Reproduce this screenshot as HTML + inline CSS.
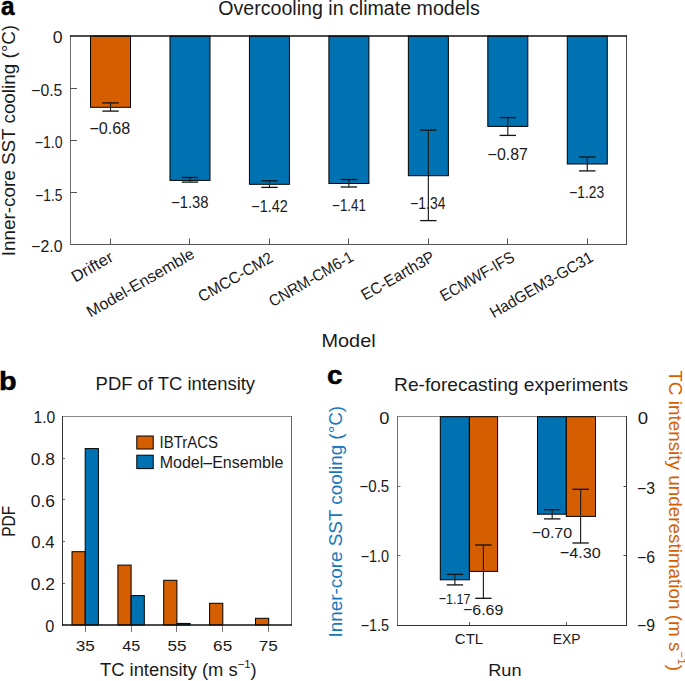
<!DOCTYPE html>
<html><head><meta charset="utf-8"><style>
html,body{margin:0;padding:0;background:#fff;}
svg{display:block;font-family:"Liberation Sans", sans-serif;}
</style></head><body>
<svg width="685" height="681" viewBox="0 0 685 681">
<rect width="685" height="681" fill="#fff"/>
<line x1="70.50" y1="35.50" x2="70.50" y2="245.00" stroke="#6e6e6e" stroke-width="1"/>
<line x1="626.50" y1="35.50" x2="626.50" y2="245.00" stroke="#4a4a4a" stroke-width="1"/>
<line x1="70.00" y1="244.50" x2="627.00" y2="244.50" stroke="#555" stroke-width="1"/>
<line x1="70.00" y1="88.50" x2="77.00" y2="88.50" stroke="#555" stroke-width="1"/>
<line x1="70.00" y1="140.50" x2="77.00" y2="140.50" stroke="#555" stroke-width="1"/>
<line x1="70.00" y1="192.50" x2="77.00" y2="192.50" stroke="#555" stroke-width="1"/>
<line x1="70.00" y1="244.50" x2="77.00" y2="244.50" stroke="#555" stroke-width="1"/>
<rect x="90.53" y="36.00" width="40.00" height="71.30" fill="#D55E00" stroke="#000" stroke-width="1"/>
<line x1="110.53" y1="102.90" x2="110.53" y2="111.10" stroke="#1e1e1e" stroke-width="1.15"/>
<line x1="102.33" y1="102.90" x2="118.73" y2="102.90" stroke="#111" stroke-width="1.3"/>
<line x1="102.33" y1="111.10" x2="118.73" y2="111.10" stroke="#111" stroke-width="1.3"/>
<line x1="110.50" y1="244.00" x2="110.50" y2="238.50" stroke="#555" stroke-width="1"/>
<rect x="169.99" y="36.00" width="40.00" height="144.40" fill="#0072B2" stroke="#000" stroke-width="1"/>
<line x1="189.99" y1="177.50" x2="189.99" y2="182.10" stroke="#1e1e1e" stroke-width="1.15"/>
<line x1="181.79" y1="177.50" x2="198.19" y2="177.50" stroke="#111" stroke-width="1.3"/>
<line x1="181.79" y1="182.10" x2="198.19" y2="182.10" stroke="#111" stroke-width="1.3"/>
<line x1="189.50" y1="244.00" x2="189.50" y2="238.50" stroke="#555" stroke-width="1"/>
<rect x="249.44" y="36.00" width="40.00" height="148.30" fill="#0072B2" stroke="#000" stroke-width="1"/>
<line x1="269.44" y1="180.80" x2="269.44" y2="187.40" stroke="#1e1e1e" stroke-width="1.15"/>
<line x1="261.24" y1="180.80" x2="277.64" y2="180.80" stroke="#111" stroke-width="1.3"/>
<line x1="261.24" y1="187.40" x2="277.64" y2="187.40" stroke="#111" stroke-width="1.3"/>
<line x1="269.50" y1="244.00" x2="269.50" y2="238.50" stroke="#555" stroke-width="1"/>
<rect x="328.90" y="36.00" width="40.00" height="147.50" fill="#0072B2" stroke="#000" stroke-width="1"/>
<line x1="348.90" y1="179.50" x2="348.90" y2="187.00" stroke="#1e1e1e" stroke-width="1.15"/>
<line x1="340.70" y1="179.50" x2="357.10" y2="179.50" stroke="#111" stroke-width="1.3"/>
<line x1="340.70" y1="187.00" x2="357.10" y2="187.00" stroke="#111" stroke-width="1.3"/>
<line x1="348.50" y1="244.00" x2="348.50" y2="238.50" stroke="#555" stroke-width="1"/>
<rect x="408.36" y="36.00" width="40.00" height="139.70" fill="#0072B2" stroke="#000" stroke-width="1"/>
<line x1="428.36" y1="130.10" x2="428.36" y2="220.60" stroke="#1e1e1e" stroke-width="1.15"/>
<line x1="420.16" y1="130.10" x2="436.56" y2="130.10" stroke="#111" stroke-width="1.3"/>
<line x1="420.16" y1="220.60" x2="436.56" y2="220.60" stroke="#111" stroke-width="1.3"/>
<line x1="428.50" y1="244.00" x2="428.50" y2="238.50" stroke="#555" stroke-width="1"/>
<rect x="487.81" y="36.00" width="40.00" height="90.40" fill="#0072B2" stroke="#000" stroke-width="1"/>
<line x1="507.81" y1="117.60" x2="507.81" y2="135.40" stroke="#1e1e1e" stroke-width="1.15"/>
<line x1="499.61" y1="117.60" x2="516.01" y2="117.60" stroke="#111" stroke-width="1.3"/>
<line x1="499.61" y1="135.40" x2="516.01" y2="135.40" stroke="#111" stroke-width="1.3"/>
<line x1="507.50" y1="244.00" x2="507.50" y2="238.50" stroke="#555" stroke-width="1"/>
<rect x="567.27" y="36.00" width="40.00" height="128.00" fill="#0072B2" stroke="#000" stroke-width="1"/>
<line x1="587.27" y1="157.00" x2="587.27" y2="170.90" stroke="#1e1e1e" stroke-width="1.15"/>
<line x1="579.07" y1="157.00" x2="595.47" y2="157.00" stroke="#111" stroke-width="1.3"/>
<line x1="579.07" y1="170.90" x2="595.47" y2="170.90" stroke="#111" stroke-width="1.3"/>
<line x1="587.50" y1="244.00" x2="587.50" y2="238.50" stroke="#555" stroke-width="1"/>
<line x1="70.00" y1="36.00" x2="627.00" y2="36.00" stroke="#111" stroke-width="1.5"/>
<line x1="62.00" y1="416.50" x2="292.00" y2="416.50" stroke="#8a8a8a" stroke-width="1"/>
<line x1="291.50" y1="416.00" x2="291.50" y2="625.00" stroke="#666" stroke-width="1"/>
<line x1="62.50" y1="416.00" x2="62.50" y2="625.50" stroke="#333" stroke-width="1"/>
<line x1="62.50" y1="458.50" x2="65.00" y2="458.50" stroke="#666" stroke-width="1"/>
<line x1="62.50" y1="499.50" x2="65.00" y2="499.50" stroke="#666" stroke-width="1"/>
<line x1="62.50" y1="541.50" x2="65.00" y2="541.50" stroke="#666" stroke-width="1"/>
<line x1="62.50" y1="583.50" x2="65.00" y2="583.50" stroke="#666" stroke-width="1"/>
<rect x="72.00" y="551.70" width="13.20" height="73.30" fill="#D55E00" stroke="#000" stroke-width="1"/>
<rect x="85.20" y="448.60" width="13.20" height="176.40" fill="#0072B2" stroke="#000" stroke-width="1"/>
<line x1="85.50" y1="625.50" x2="85.50" y2="632.00" stroke="#777" stroke-width="1"/>
<rect x="117.90" y="565.10" width="13.20" height="59.90" fill="#D55E00" stroke="#000" stroke-width="1"/>
<rect x="131.10" y="595.60" width="13.20" height="29.40" fill="#0072B2" stroke="#000" stroke-width="1"/>
<line x1="131.50" y1="625.50" x2="131.50" y2="632.00" stroke="#777" stroke-width="1"/>
<rect x="163.70" y="580.30" width="13.20" height="44.70" fill="#D55E00" stroke="#000" stroke-width="1"/>
<rect x="176.90" y="623.40" width="13.20" height="1.60" fill="#0072B2" stroke="#000" stroke-width="1"/>
<line x1="176.50" y1="625.50" x2="176.50" y2="632.00" stroke="#777" stroke-width="1"/>
<rect x="209.60" y="603.30" width="13.20" height="21.70" fill="#D55E00" stroke="#000" stroke-width="1"/>
<line x1="222.50" y1="625.50" x2="222.50" y2="632.00" stroke="#777" stroke-width="1"/>
<rect x="255.50" y="618.30" width="13.20" height="6.70" fill="#D55E00" stroke="#000" stroke-width="1"/>
<line x1="268.50" y1="625.50" x2="268.50" y2="632.00" stroke="#777" stroke-width="1"/>
<line x1="62.00" y1="625.10" x2="292.00" y2="625.10" stroke="#111" stroke-width="1.5"/>
<rect x="136.80" y="436.00" width="16.40" height="13.00" fill="#D55E00" stroke="#000" stroke-width="1"/>
<rect x="136.80" y="455.20" width="16.40" height="13.40" fill="#0072B2" stroke="#000" stroke-width="1"/>
<line x1="397.00" y1="416.50" x2="627.00" y2="416.50" stroke="#8a8a8a" stroke-width="1"/>
<line x1="397.50" y1="416.00" x2="397.50" y2="625.50" stroke="#6e6e6e" stroke-width="1"/>
<line x1="626.50" y1="416.00" x2="626.50" y2="626.00" stroke="#333" stroke-width="1"/>
<line x1="397.00" y1="625.50" x2="627.00" y2="625.50" stroke="#333" stroke-width="1"/>
<line x1="397.50" y1="486.50" x2="400.50" y2="486.50" stroke="#666" stroke-width="1"/>
<line x1="623.50" y1="486.50" x2="626.50" y2="486.50" stroke="#444" stroke-width="1"/>
<line x1="397.50" y1="555.50" x2="400.50" y2="555.50" stroke="#666" stroke-width="1"/>
<line x1="623.50" y1="555.50" x2="626.50" y2="555.50" stroke="#444" stroke-width="1"/>
<rect x="440.30" y="416.70" width="29.10" height="163.10" fill="#0072B2" stroke="#000" stroke-width="1"/>
<rect x="469.40" y="416.70" width="28.20" height="154.70" fill="#D55E00" stroke="#000" stroke-width="1"/>
<rect x="537.50" y="416.70" width="28.80" height="97.50" fill="#0072B2" stroke="#000" stroke-width="1"/>
<rect x="566.30" y="416.70" width="29.20" height="99.70" fill="#D55E00" stroke="#000" stroke-width="1"/>
<line x1="454.90" y1="574.40" x2="454.90" y2="584.90" stroke="#1e1e1e" stroke-width="1.15"/>
<line x1="446.70" y1="574.40" x2="463.10" y2="574.40" stroke="#111" stroke-width="1.3"/>
<line x1="446.70" y1="584.90" x2="463.10" y2="584.90" stroke="#111" stroke-width="1.3"/>
<line x1="483.40" y1="545.00" x2="483.40" y2="598.30" stroke="#1e1e1e" stroke-width="1.15"/>
<line x1="475.20" y1="545.00" x2="491.60" y2="545.00" stroke="#111" stroke-width="1.3"/>
<line x1="475.20" y1="598.30" x2="491.60" y2="598.30" stroke="#111" stroke-width="1.3"/>
<line x1="552.20" y1="509.70" x2="552.20" y2="518.90" stroke="#1e1e1e" stroke-width="1.15"/>
<line x1="544.00" y1="509.70" x2="560.40" y2="509.70" stroke="#111" stroke-width="1.3"/>
<line x1="544.00" y1="518.90" x2="560.40" y2="518.90" stroke="#111" stroke-width="1.3"/>
<line x1="580.60" y1="489.30" x2="580.60" y2="543.00" stroke="#1e1e1e" stroke-width="1.15"/>
<line x1="572.40" y1="489.30" x2="588.80" y2="489.30" stroke="#111" stroke-width="1.3"/>
<line x1="572.40" y1="543.00" x2="588.80" y2="543.00" stroke="#111" stroke-width="1.3"/>
<line x1="469.50" y1="625.00" x2="469.50" y2="622.00" stroke="#555" stroke-width="1"/>
<line x1="566.50" y1="625.00" x2="566.50" y2="622.00" stroke="#555" stroke-width="1"/>
<text x="0.95" y="15.15" font-size="26.00" font-weight="bold" stroke="#000" stroke-width="0.5" textLength="13.56" lengthAdjust="spacingAndGlyphs" fill="#000">a</text>
<text x="349.00" y="15.20" font-size="19.40" text-anchor="middle" textLength="261.50" lengthAdjust="spacingAndGlyphs" fill="#1a1a1a">Overcooling in climate models</text>
<text x="62.75" y="43.05" font-size="16.30" text-anchor="end" textLength="9.86" lengthAdjust="spacingAndGlyphs" fill="#1a1a1a">0</text>
<text x="62.40" y="95.97" font-size="16.30" text-anchor="end" textLength="31.12" lengthAdjust="spacingAndGlyphs" fill="#1a1a1a">−0.5</text>
<text x="62.50" y="147.85" font-size="16.30" text-anchor="end" textLength="27.82" lengthAdjust="spacingAndGlyphs" fill="#1a1a1a">−1.0</text>
<text x="62.45" y="200.68" font-size="16.30" text-anchor="end" textLength="27.28" lengthAdjust="spacingAndGlyphs" fill="#1a1a1a">−1.5</text>
<text x="62.55" y="252.40" font-size="16.30" text-anchor="end" textLength="31.24" lengthAdjust="spacingAndGlyphs" fill="#1a1a1a">−2.0</text>
<text x="109.88" y="134.40" font-size="16.30" text-anchor="middle" textLength="40.89" lengthAdjust="spacingAndGlyphs" fill="#1a1a1a">−0.68</text>
<text x="0" y="0" transform="translate(114.43 260.20) rotate(-30)" font-size="16.00" text-anchor="end" textLength="45.30" lengthAdjust="spacingAndGlyphs" fill="#1a1a1a">Drifter</text>
<text x="189.84" y="207.90" font-size="16.30" text-anchor="middle" textLength="37.39" lengthAdjust="spacingAndGlyphs" fill="#1a1a1a">−1.38</text>
<text x="0" y="0" transform="translate(195.59 257.10) rotate(-30)" font-size="16.00" text-anchor="end" textLength="121.32" lengthAdjust="spacingAndGlyphs" fill="#1a1a1a">Model-Ensemble</text>
<text x="269.49" y="211.50" font-size="16.30" text-anchor="middle" textLength="36.52" lengthAdjust="spacingAndGlyphs" fill="#1a1a1a">−1.42</text>
<text x="0" y="0" transform="translate(274.24 260.90) rotate(-30)" font-size="16.00" text-anchor="end" textLength="83.37" lengthAdjust="spacingAndGlyphs" fill="#1a1a1a">CMCC-CM2</text>
<text x="348.95" y="211.10" font-size="16.30" text-anchor="middle" textLength="33.68" lengthAdjust="spacingAndGlyphs" fill="#1a1a1a">−1.41</text>
<text x="0" y="0" transform="translate(354.80 260.00) rotate(-30)" font-size="16.00" text-anchor="end" textLength="94.73" lengthAdjust="spacingAndGlyphs" fill="#1a1a1a">CNRM-CM6-1</text>
<text x="427.81" y="208.85" font-size="16.30" text-anchor="middle" textLength="35.08" lengthAdjust="spacingAndGlyphs" fill="#1a1a1a">−1.34</text>
<text x="0" y="0" transform="translate(435.86 260.00) rotate(-30)" font-size="16.00" text-anchor="end" textLength="81.69" lengthAdjust="spacingAndGlyphs" fill="#1a1a1a">EC-Earth3P</text>
<text x="507.76" y="160.15" font-size="16.30" text-anchor="middle" textLength="40.28" lengthAdjust="spacingAndGlyphs" fill="#1a1a1a">−0.87</text>
<text x="0" y="0" transform="translate(515.71 260.40) rotate(-30)" font-size="16.00" text-anchor="end" textLength="82.85" lengthAdjust="spacingAndGlyphs" fill="#1a1a1a">ECMWF-IFS</text>
<text x="586.67" y="197.70" font-size="16.30" text-anchor="middle" textLength="34.83" lengthAdjust="spacingAndGlyphs" fill="#1a1a1a">−1.23</text>
<text x="0" y="0" transform="translate(594.47 260.40) rotate(-30)" font-size="16.00" text-anchor="end" textLength="116.31" lengthAdjust="spacingAndGlyphs" fill="#1a1a1a">HadGEM3-GC31</text>
<text x="348.55" y="346.90" font-size="19.00" text-anchor="middle" textLength="54.16" lengthAdjust="spacingAndGlyphs" fill="#1a1a1a">Model</text>
<text x="0" y="0" transform="translate(15.20 140.55) rotate(-90)" font-size="19.00" text-anchor="middle" textLength="231.31" lengthAdjust="spacingAndGlyphs" fill="#1a1a1a">Inner-core SST cooling (°C)</text>
<text x="-1.00" y="389.80" font-size="26.00" font-weight="bold" stroke="#000" stroke-width="0.5" textLength="17.61" lengthAdjust="spacingAndGlyphs" fill="#000">b</text>
<text x="175.35" y="390.00" font-size="18.50" text-anchor="middle" textLength="159.47" lengthAdjust="spacingAndGlyphs" fill="#1a1a1a">PDF of TC intensity</text>
<text x="55.25" y="423.20" font-size="16.00" text-anchor="end" textLength="21.73" lengthAdjust="spacingAndGlyphs" fill="#1a1a1a">1.0</text>
<text x="55.05" y="465.34" font-size="16.00" text-anchor="end" textLength="24.18" lengthAdjust="spacingAndGlyphs" fill="#1a1a1a">0.8</text>
<text x="55.05" y="506.58" font-size="16.00" text-anchor="end" textLength="24.18" lengthAdjust="spacingAndGlyphs" fill="#1a1a1a">0.6</text>
<text x="54.55" y="548.32" font-size="16.00" text-anchor="end" textLength="23.18" lengthAdjust="spacingAndGlyphs" fill="#1a1a1a">0.4</text>
<text x="55.05" y="589.86" font-size="16.00" text-anchor="end" textLength="24.28" lengthAdjust="spacingAndGlyphs" fill="#1a1a1a">0.2</text>
<text x="54.35" y="631.55" font-size="16.00" text-anchor="end" textLength="9.05" lengthAdjust="spacingAndGlyphs" fill="#1a1a1a">0</text>
<text x="85.25" y="650.85" font-size="15.50" text-anchor="middle" textLength="19.08" lengthAdjust="spacingAndGlyphs" fill="#1a1a1a">35</text>
<text x="131.35" y="650.85" font-size="15.50" text-anchor="middle" textLength="17.96" lengthAdjust="spacingAndGlyphs" fill="#1a1a1a">45</text>
<text x="177.05" y="650.85" font-size="15.50" text-anchor="middle" textLength="19.02" lengthAdjust="spacingAndGlyphs" fill="#1a1a1a">55</text>
<text x="222.65" y="650.85" font-size="15.50" text-anchor="middle" textLength="19.08" lengthAdjust="spacingAndGlyphs" fill="#1a1a1a">65</text>
<text x="268.25" y="650.85" font-size="15.50" text-anchor="middle" textLength="19.08" lengthAdjust="spacingAndGlyphs" fill="#1a1a1a">75</text>
<text x="100.00" y="676.20" font-size="18.30" textLength="156.75" lengthAdjust="spacingAndGlyphs" fill="#1a1a1a">TC intensity (m s<tspan font-size="0.62em" dy="-0.74em">−1</tspan><tspan dy="0.4588em">)</tspan></text>
<text x="0" y="0" transform="translate(14.90 521.30) rotate(-90)" font-size="19.00" text-anchor="middle" textLength="30.83" lengthAdjust="spacingAndGlyphs" fill="#1a1a1a">PDF</text>
<text x="159.60" y="447.70" font-size="16.00" textLength="58.43" lengthAdjust="spacingAndGlyphs" fill="#1a1a1a">IBTrACS</text>
<text x="159.65" y="467.50" font-size="16.00" textLength="123.73" lengthAdjust="spacingAndGlyphs" fill="#1a1a1a">Model–Ensemble</text>
<text x="327.05" y="384.25" font-size="26.00" font-weight="bold" stroke="#000" stroke-width="0.5" textLength="15.50" lengthAdjust="spacingAndGlyphs" fill="#000">c</text>
<text x="511.05" y="390.50" font-size="18.50" text-anchor="middle" textLength="233.84" lengthAdjust="spacingAndGlyphs" fill="#1a1a1a">Re-forecasting experiments</text>
<text x="389.35" y="423.95" font-size="16.00" text-anchor="end" textLength="10.18" lengthAdjust="spacingAndGlyphs" fill="#1a1a1a">0</text>
<text x="637.75" y="423.65" font-size="16.00" textLength="10.36" lengthAdjust="spacingAndGlyphs" fill="#1a1a1a">0</text>
<text x="389.20" y="492.03" font-size="16.00" text-anchor="end" textLength="29.74" lengthAdjust="spacingAndGlyphs" fill="#1a1a1a">−0.5</text>
<text x="636.90" y="493.58" font-size="16.00" textLength="18.05" lengthAdjust="spacingAndGlyphs" fill="#1a1a1a">−3</text>
<text x="389.10" y="562.07" font-size="16.00" text-anchor="end" textLength="28.47" lengthAdjust="spacingAndGlyphs" fill="#1a1a1a">−1.0</text>
<text x="636.90" y="563.37" font-size="16.00" textLength="18.05" lengthAdjust="spacingAndGlyphs" fill="#1a1a1a">−6</text>
<text x="389.10" y="631.40" font-size="16.00" text-anchor="end" textLength="28.47" lengthAdjust="spacingAndGlyphs" fill="#1a1a1a">−1.5</text>
<text x="636.90" y="631.30" font-size="16.00" textLength="18.05" lengthAdjust="spacingAndGlyphs" fill="#1a1a1a">−9</text>
<text x="454.55" y="603.75" font-size="15.50" text-anchor="middle" textLength="31.70" lengthAdjust="spacingAndGlyphs" fill="#1a1a1a">−1.17</text>
<text x="483.20" y="614.65" font-size="15.50" text-anchor="middle" textLength="40.32" lengthAdjust="spacingAndGlyphs" fill="#1a1a1a">−6.69</text>
<text x="551.90" y="537.90" font-size="15.50" text-anchor="middle" textLength="40.48" lengthAdjust="spacingAndGlyphs" fill="#1a1a1a">−0.70</text>
<text x="580.25" y="557.90" font-size="15.50" text-anchor="middle" textLength="40.79" lengthAdjust="spacingAndGlyphs" fill="#1a1a1a">−4.30</text>
<text x="469.00" y="644.35" font-size="15.00" text-anchor="middle" textLength="28.38" lengthAdjust="spacingAndGlyphs" fill="#1a1a1a">CTL</text>
<text x="566.65" y="644.35" font-size="15.00" text-anchor="middle" textLength="27.78" lengthAdjust="spacingAndGlyphs" fill="#1a1a1a">EXP</text>
<text x="504.90" y="675.80" font-size="17.00" text-anchor="middle" textLength="33.37" lengthAdjust="spacingAndGlyphs" fill="#1a1a1a">Run</text>
<text x="0" y="0" transform="translate(342.20 521.70) rotate(-90)" font-size="19.00" text-anchor="middle" textLength="231.61" lengthAdjust="spacingAndGlyphs" fill="#1677bc">Inner-core SST cooling (°C)</text>
<text x="0" y="0" transform="translate(669.30 520.70) rotate(90)" font-size="19.00" text-anchor="middle" textLength="300.78" lengthAdjust="spacingAndGlyphs" fill="#D55E00">TC intensity underestimation (m s<tspan font-size="0.62em" dy="-0.74em">−1</tspan><tspan dy="0.4588em">)</tspan></text>
</svg>
</body></html>
